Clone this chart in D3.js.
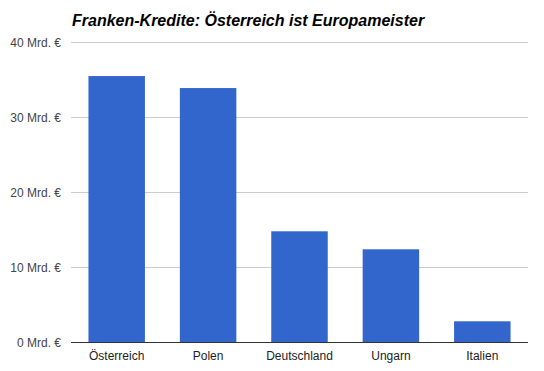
<!DOCTYPE html>
<html><head><meta charset="utf-8">
<script src="https://cdn.jsdelivr.net/npm/d3@7"></script>
<style>body{margin:0;background:#fff}svg{display:block}</style>
</head><body><svg id="c" width="544" height="371"></svg>
<script>
const categories = ["Österreich","Polen","Deutschland","Ungarn","Italien"];
const values = [35.5, 33.9, 14.8, 12.4, 2.8];
const yTicks = [0,10,20,30,40];
const yTickLabel = d => d + " Mrd. €";
const title = "Franken-Kredite: Österreich ist Europameister";

const svg = d3.select("#c");
const m = {left:71, right:16, top:42.3, bottom:28.7};
const W = 544, H = 371;
const x = d3.scaleBand().domain(categories).range([m.left, W-m.right]).paddingInner(0.382).paddingOuter(0.191);
const y = d3.scaleLinear().domain([0,40]).range([H-m.bottom, m.top]);

svg.append("g").selectAll("line").data(yTicks.filter(d=>d>0)).join("line")
  .attr("x1", m.left).attr("x2", W-m.right)
  .attr("y1", d=>Math.round(y(d))+0.5).attr("y2", d=>Math.round(y(d))+0.5)
  .attr("stroke","#cccccc").attr("stroke-width",1);

svg.append("g").selectAll("rect").data(values).join("rect")
  .attr("x",(d,i)=>x(categories[i])).attr("width",x.bandwidth())
  .attr("y",d=>y(d)).attr("height",d=>y(0)-y(d)).attr("fill","#3366cc");

svg.append("line").attr("x1",m.left).attr("x2",W-m.right)
  .attr("y1",Math.round(y(0))+0.5).attr("y2",Math.round(y(0))+0.5)
  .attr("stroke","#333333").attr("stroke-width",1);

svg.append("g").selectAll("text").data(yTicks).join("text")
  .attr("x",61).attr("y",d=>y(d)+4.5).attr("text-anchor","end")
  .attr("font-family","Arial, 'Liberation Sans', sans-serif").attr("font-size",12).attr("fill","#444")
  .text(yTickLabel);

svg.append("g").selectAll("text").data(categories).join("text")
  .attr("x",d=>x(d)+x.bandwidth()/2).attr("y",360).attr("text-anchor","middle")
  .attr("font-family","Arial, 'Liberation Sans', sans-serif").attr("font-size",12).attr("fill","#222")
  .text(d=>d);

svg.append("text").attr("x",72).attr("y",26)
  .attr("font-family","Arial, 'Liberation Sans', sans-serif").attr("font-size",16)
  .attr("font-weight","bold").attr("font-style","italic").attr("fill","#000")
  .text(title);
</script></body></html>
